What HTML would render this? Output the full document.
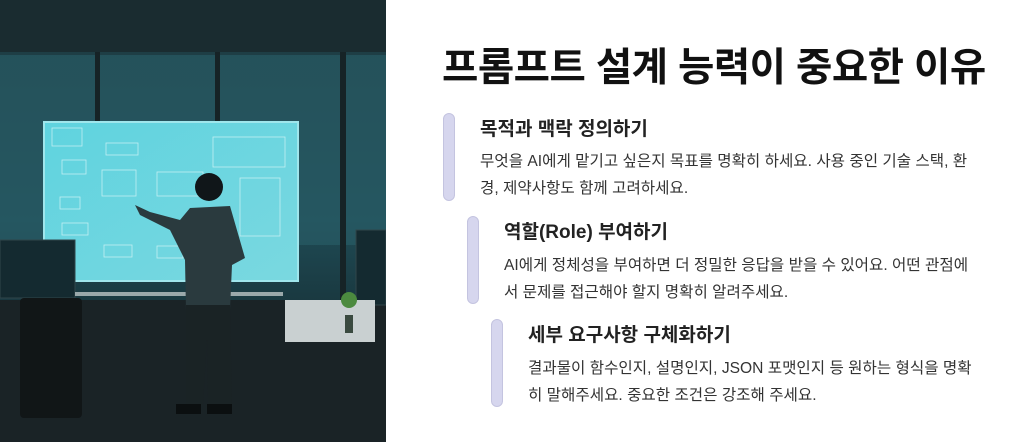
<!DOCTYPE html>
<html><head><meta charset="utf-8"><style>
body{margin:0;width:1012px;height:442px;background:#fff;position:relative;overflow:hidden;font-family:"Liberation Sans","Noto Sans CJK KR",sans-serif;color:#222}
h1{position:absolute;left:442px;top:36px;margin:0;font-size:39.5px;font-weight:700;color:#111;letter-spacing:-0.5px;white-space:nowrap}
.bar{position:absolute;width:10px;height:86px;background:#d6d6ee;border:1px solid #c4c4e0;border-radius:6px}
.h{position:absolute;font-size:19px;font-weight:700;color:#222;white-space:nowrap}
.p{position:absolute;font-size:15.6px;line-height:27px;color:#333;white-space:nowrap}
</style></head><body>
<svg width="386" height="442" style="position:absolute;left:0;top:0">
<defs>
<linearGradient id="bg" x1="0" y1="0" x2="0" y2="1"><stop offset="0" stop-color="#1d3a40"/><stop offset="0.5" stop-color="#1f4b55"/><stop offset="1" stop-color="#10191c"/></linearGradient>
<linearGradient id="bd" x1="0" y1="0" x2="1" y2="1"><stop offset="0" stop-color="#5fd3df"/><stop offset="1" stop-color="#7ad8e0"/></linearGradient>
</defs>
<rect width="386" height="442" fill="url(#bg)"/>
<rect x="0" y="0" width="386" height="52" fill="#1a2c30"/>
<rect x="0" y="55" width="386" height="190" fill="#2a5f69" opacity="0.6"/>
<rect x="95" y="52" width="5" height="190" fill="#162326"/>
<rect x="215" y="52" width="5" height="190" fill="#162326"/>
<rect x="340" y="52" width="6" height="250" fill="#162326"/>
<rect x="0" y="300" width="386" height="142" fill="#1a2326"/>
<rect x="44" y="122" width="254" height="159" fill="url(#bd)" stroke="#9fe6ec" stroke-width="2"/>
<g fill="none" stroke="#d8f6f8" stroke-width="0.8" opacity="0.8">
<rect x="52" y="128" width="30" height="18"/><rect x="106" y="143" width="32" height="12"/><rect x="62" y="160" width="24" height="14"/><rect x="102" y="170" width="34" height="26"/><rect x="157" y="172" width="46" height="24"/><rect x="213" y="137" width="72" height="30"/><rect x="240" y="178" width="40" height="58"/><rect x="60" y="197" width="20" height="12"/><rect x="62" y="223" width="26" height="12"/><rect x="104" y="245" width="28" height="12"/><rect x="157" y="246" width="26" height="12"/>
</g>
<rect x="0" y="240" width="75" height="58" fill="#142a30" stroke="#30454a"/>
<rect x="356" y="230" width="30" height="75" fill="#142a30" stroke="#30454a"/>
<rect x="20" y="298" width="62" height="120" rx="4" fill="#111617"/>
<rect x="75" y="292" width="208" height="4" fill="#9aa8aa"/>
<rect x="285" y="300" width="90" height="42" fill="#c9d0d1"/>
<rect x="345" y="315" width="8" height="18" fill="#3a4a40"/><circle cx="349" cy="300" r="8" fill="#4c8a3f"/>
<circle cx="209" cy="187" r="14" fill="#101619"/>
<path d="M190 208 L230 206 L245 258 L232 265 L230 310 L186 312 L185 260 L170 230 L140 215 L135 205 L150 212 L180 220 Z" fill="#2a3a3e"/>
<path d="M186 305 L230 305 L232 405 L208 405 L207 340 L203 405 L186 405 Z" fill="#1a2325"/>
<rect x="176" y="404" width="25" height="10" fill="#0b0f10"/><rect x="207" y="404" width="25" height="10" fill="#0b0f10"/>
</svg>
<h1>프롬프트 설계 능력이 중요한 이유</h1>
<div class="bar" style="left:443px;top:113px"></div>
<div class="h" style="left:480px;top:114px">목적과 맥락 정의하기</div>
<div class="p" style="left:480px;top:148px">무엇을 AI에게 맡기고 싶은지 목표를 명확히 하세요. 사용 중인 기술 스택, 환<br>경, 제약사항도 함께 고려하세요.</div>
<div class="bar" style="left:467px;top:216px"></div>
<div class="h" style="left:504px;top:217px">역할(Role) 부여하기</div>
<div class="p" style="left:504px;top:252px">AI에게 정체성을 부여하면 더 정밀한 응답을 받을 수 있어요. 어떤 관점에<br>서 문제를 접근해야 할지 명확히 알려주세요.</div>
<div class="bar" style="left:491px;top:319px"></div>
<div class="h" style="left:528px;top:320px">세부 요구사항 구체화하기</div>
<div class="p" style="left:528px;top:355px">결과물이 함수인지, 설명인지, JSON 포맷인지 등 원하는 형식을 명확<br>히 말해주세요. 중요한 조건은 강조해 주세요.</div>
</body></html>
